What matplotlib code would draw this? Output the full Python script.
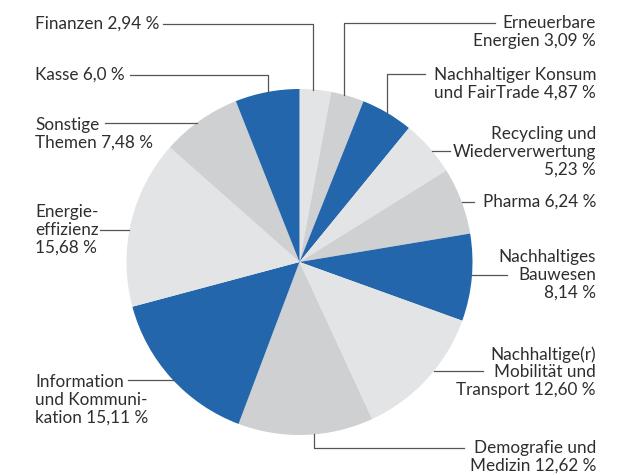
import numpy as np
import matplotlib
matplotlib.use('Agg')
import matplotlib.pyplot as plt

plt.rcParams['font.family'] = ['Lato', 'DejaVu Sans']

# slices, clockwise from 12 o'clock
labels = ['Finanzen 2,94 %', 'Erneuerbare\nEnergien 3,09 %',
          'Nachhaltiger Konsum\nund FairTrade 4,87 %',
          'Recycling und\nWiederverwertung\n5,23 %', 'Pharma 6,24 %',
          'Nachhaltiges\nBauwesen\n8,14 %',
          'Nachhaltige(r)\nMobilität und\nTransport 12,60 %',
          'Demografie und\nMedizin 12,62 %',
          'Information\nund Kommuni-\nkation 15,11 %',
          'Energie-\neffizienz\n15,68 %', 'Sonstige\nThemen 7,48 %',
          'Kasse 6,0 %']
values = [2.94, 3.09, 4.87, 5.23, 6.24, 8.14, 12.60, 12.62, 15.11, 15.68, 7.48, 6.0]

BLUE = '#2366ab'
LIGHT = '#e3e4e6'
GRAY = '#cfd0d2'
colors = [LIGHT, GRAY, BLUE, LIGHT, GRAY, BLUE, LIGHT, GRAY, BLUE, LIGHT, GRAY, BLUE]

# layout in pixel coordinates (y down)
cx, cy, r = 299.5, 262.0, 173.0
# (kind, line x, line y, line end x, side, text y)
layout = [
    ('v', 313, 24, 163, 'L', 24),
    ('v', 344, 23, 495, 'R', 32),
    ('v', 387, 74, 425, 'R', 84),
    ('h', None, 151, 450, 'R', 152),
    ('h', None, 202, 474, 'R', 202),
    ('h', None, 275, 507, 'R', 275),
    ('h', None, 371, 483, 'R', 372),
    ('v', 314, 448, 464, 'R', 457),
    ('h', None, 380, 128, 'L', 400),
    ('h', None, 230, 100, 'L', 230),
    ('h', None, 123, 105, 'L', 134),
    ('v', 268, 75, 130, 'L', 75),
]

fig = plt.figure(figsize=(6.3, 4.75), dpi=100)
ax = fig.add_axes([0, 0, 1, 1])

ax.pie(values, colors=colors, startangle=-90, counterclock=True,
       center=(cx, cy), radius=r, wedgeprops=dict(linewidth=0))
ax.set_xlim(0, 630)
ax.set_ylim(475, 0)
ax.set_aspect('equal')
ax.axis('off')

line_col = '#555555'
for lab, (kind, vx, ly, lx, side, ty) in zip(labels, layout):
    if kind == 'v':
        dy = np.sqrt(r ** 2 - (vx - cx) ** 2)
        y0 = cy - dy if ly < cy else cy + dy
        ax.plot([vx, vx, lx], [y0, ly, ly], color=line_col, lw=0.9)
    else:
        dx = np.sqrt(r ** 2 - (ly - cy) ** 2)
        x0 = cx + dx if lx > cx else cx - dx
        ax.plot([x0, lx], [ly, ly], color=line_col, lw=0.9)
    if side == 'L':
        ax.text(35, ty, lab, ha='left', va='center', ma='left',
                fontsize=12.3, color='#2e2e2e', linespacing=1.12)
    else:
        ax.text(596, ty, lab, ha='right', va='center', ma='right',
                fontsize=12.3, color='#2e2e2e', linespacing=1.12)

plt.savefig('out.png', dpi=100)
